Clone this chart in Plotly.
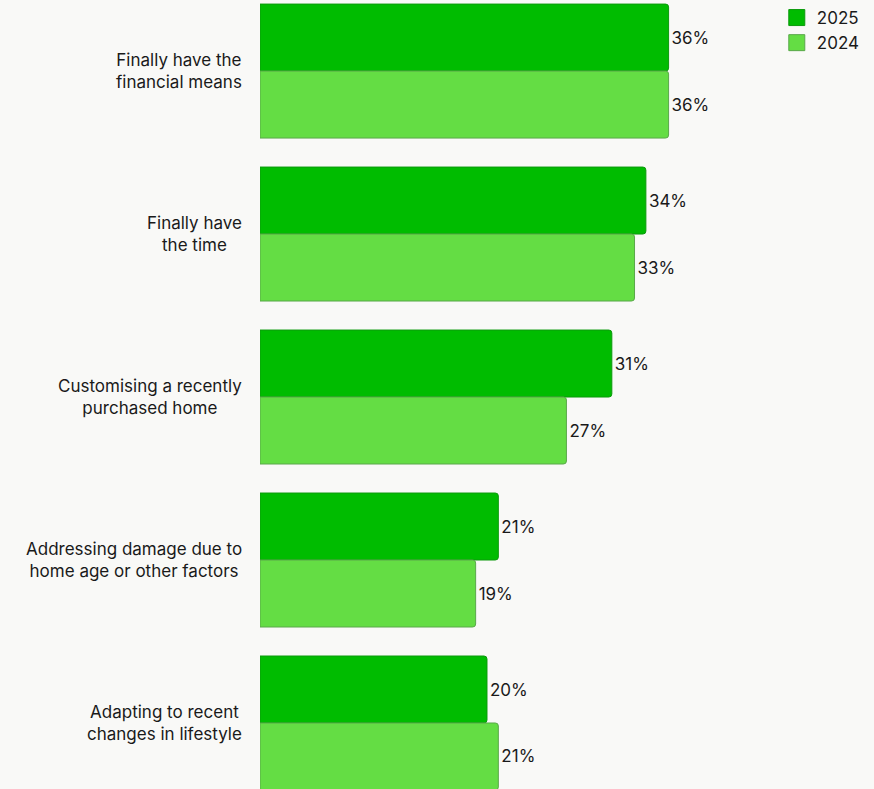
import plotly.graph_objects as go

# Reasons for taking on a home project, share of respondents (%)
categories = [
    "Finally have the<br>financial means",
    "Finally have<br>the time",
    "Customising a recently<br>purchased home",
    "Addressing damage due to<br>home age or other factors",
    "Adapting to recent<br>changes in lifestyle",
]
values_2025 = [36, 34, 31, 21, 20]
values_2024 = [36, 33, 27, 19, 21]
series_names = ["2025", "2024"]
series_colors = ["#00bc00", "#64dd44"]
series_edges = ["#0c9a0c", "#5aa84a"]

FONT = "Inter"
BG = "#f9f9f7"
TEXT = "#1a1a1a"

fig = go.Figure()
for name, vals, col, edge in zip(series_names, [values_2025, values_2024],
                                 series_colors, series_edges):
    fig.add_trace(go.Bar(
        y=categories, x=vals, name=name, orientation="h", showlegend=False,
        marker=dict(color=col, line=dict(color=edge, width=1), cornerradius=3),
        texttemplate="%{x}%", textposition="outside",
        textfont=dict(size=17, color=TEXT, family=FONT),
        cliponaxis=False,
    ))

# Square legend swatches (bar swatches inherit the rounded corners)
for name, col, edge in zip(series_names, series_colors, series_edges):
    fig.add_trace(go.Scatter(
        x=[None], y=[None], mode="markers", name=name,
        marker=dict(symbol="square", size=16, color=col, line=dict(color=edge, width=1)),
    ))

# Category labels, centred text blocks right-aligned against the bars
for cat in categories:
    fig.add_annotation(
        x=0, xref="paper", y=cat, yref="y", text=cat,
        xanchor="right", yanchor="middle", align="center", xshift=-16,
        showarrow=False, font=dict(size=17, color=TEXT, family=FONT),
    )

fig.update_layout(
    width=874, height=789,
    margin=dict(l=260, r=0, t=0, b=0),
    paper_bgcolor=BG, plot_bgcolor=BG,
    barmode="group", bargap=0.178, bargroupgap=0,
    font=dict(family=FONT, size=17, color=TEXT),
    showlegend=True,
    legend=dict(
        x=0.985, xanchor="right", y=1.0, yanchor="top",
        bgcolor="rgba(0,0,0,0)", font=dict(size=17, family=FONT),
        itemwidth=30, tracegroupgap=0,
    ),
    xaxis=dict(range=[0, 54.1], visible=False, showgrid=False, zeroline=False),
    yaxis=dict(
        range=[4.405, -0.436], showticklabels=False, showgrid=False,
        zeroline=False, ticks="", categoryorder="array", categoryarray=categories,
    ),
)

fig.write_html("out.html")
